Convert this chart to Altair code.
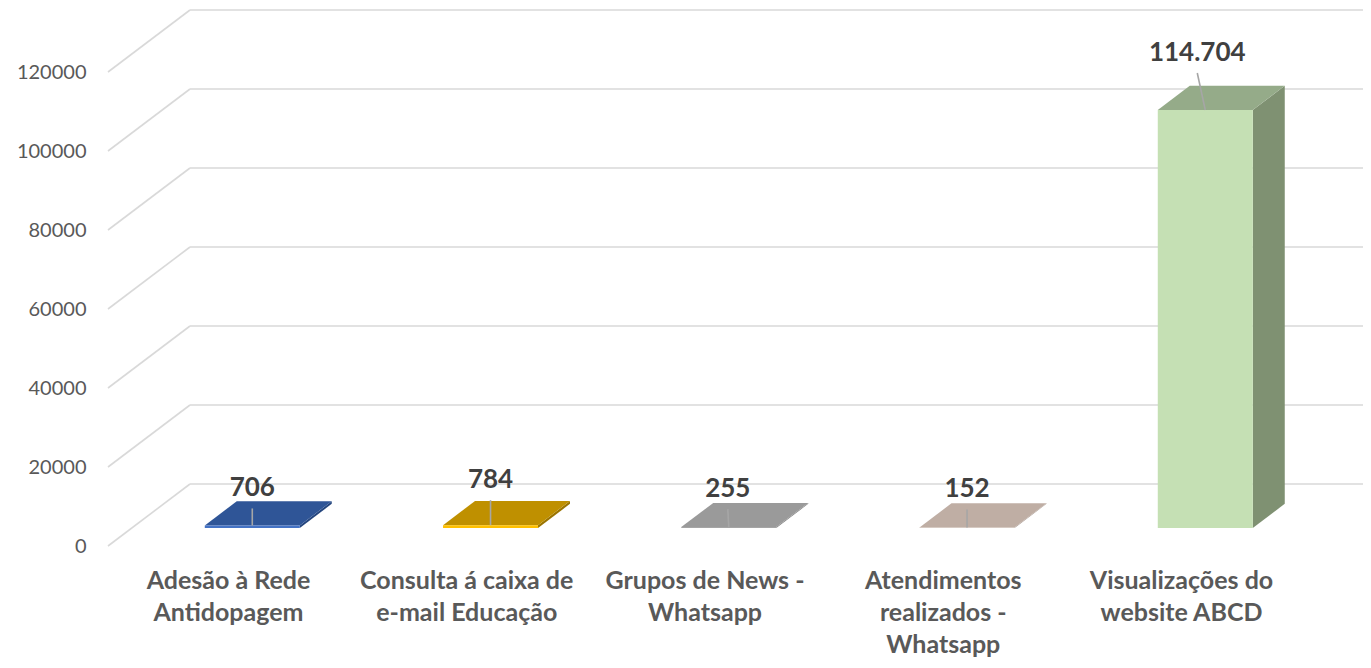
import altair as alt
import pandas as pd

# ---------------- data ----------------
categories = [
    "Adesão à Rede\nAntidopagem",
    "Consulta á caixa de\ne-mail Educação",
    "Grupos de News -\nWhatsapp",
    "Atendimentos\nrealizados -\nWhatsapp",
    "Visualizações do\nwebsite ABCD",
]
values = [706, 784, 255, 152, 114704]
value_labels = ["706", "784", "255", "152", "114.704"]
y_ticks = [0, 20000, 40000, 60000, 80000, 100000, 120000]

# ---------------- styles ----------------
front_colors = ["#4472C4", "#FFC000", "#A5A5A5", "#CDBDB3", "#C5E0B4"]
top_colors = ["#2F5597", "#BF9000", "#9A9A9A", "#BFAEA4", "#95AB89"]
side_colors = ["#24457E", "#9A7400", "#7F7F7F", "#A39389", "#7F9172"]
GRID = "#D9D9D9"
FONT = "Lato"

# ---------------- layout (pixels) ----------------
W, H = 1255, 474
PAD = {"left": 100, "top": 64, "right": 0, "bottom": 114}
STEP, FIRST = 238.25, 120.5          # category spacing / first centre
DEPTH_X, DEPTH_Y = 82, 62            # full depth of the 3-D box
D0, D1 = 0.29, 0.68                  # bar front / back depth fraction
HALF = 47.5                          # half bar width
LBL_DX = [0, 0, -1, 0, -8]           # value label offsets (px)
LBL_DY = [37, 45, 38, 38, 57]
PERSPECTIVE = 0.9226                 # bar height shrink of the 3-D view

XMIN = -FIRST / STEP
XMAX = XMIN + W / STEP
YG = 120000
kG = H / YG
YB = YG / PERSPECTIVE
kB = H / YB

xs = alt.Scale(domain=[XMIN, XMAX], nice=False, zero=False)
ysG = alt.Scale(domain=[0, YG], nice=False)
ysB = alt.Scale(domain=[0, YB], nice=False)

grid_axis = alt.Axis(
    values=y_ticks, format="d", grid=False, domain=False, ticks=False,
    labelFontSize=20, labelColor="#595959", labelFont=FONT,
    labelPadding=22, title=None,
)

keys = [str(i) for i in range(len(values))]

def px_x(p):
    return p / STEP

# ---------------- grid layer ----------------
grid_df = pd.DataFrame({"v": y_ticks})
grid_df["xa"] = XMIN
grid_df["xb"] = XMIN + px_x(DEPTH_X)
grid_df["xe"] = XMAX
grid_df["vb"] = grid_df["v"] + DEPTH_Y / kG

diag = alt.Chart(grid_df).mark_rule(color=GRID, strokeWidth=1.6).encode(
    x=alt.X("xa:Q", scale=xs, axis=None),
    x2="xb:Q",
    y=alt.Y("v:Q", scale=ysG, axis=grid_axis),
    y2="vb:Q",
)
back = alt.Chart(grid_df).mark_rule(color=GRID, strokeWidth=1.6).encode(
    x=alt.X("xb:Q", scale=xs, axis=None),
    x2="xe:Q",
    y=alt.Y("vb:Q", scale=ysG, axis=grid_axis),
)

cat_df = pd.DataFrame({"cat": categories, "x": list(range(len(categories)))})
cat_df["y"] = -23 / kG
cat_text = alt.Chart(cat_df).mark_text(
    font=FONT, fontSize=25, fontWeight="bold", color="#595959",
    align="center", baseline="top", lineBreak="\n", lineHeight=32,
).encode(
    x=alt.X("x:Q", scale=xs, axis=None),
    y=alt.Y("y:Q", scale=ysG, axis=grid_axis),
    text="cat:N",
)

grid_layer = alt.layer(diag, back, cat_text)

# ---------------- bar layer ----------------
sx0, sx1 = px_x(D0 * DEPTH_X), px_x(D1 * DEPTH_X)
sy0, sy1 = D0 * DEPTH_Y / kB, D1 * DEPTH_Y / kB
hw = px_x(HALF)

front_rows, top_rows, side_rows, lbl_rows = [], [], [], []
for i, (k, v) in enumerate(zip(keys, values)):
    front_rows.append({"k": k, "x": i - hw + sx0, "x2": i + hw + sx0,
                       "y": sy0, "y2": v + sy0})
    top_rows.append({"k": k, "y": v + sy0, "x": i - hw + sx0, "x2": i + hw + sx0})
    top_rows.append({"k": k, "y": v + sy1, "x": i - hw + sx1, "x2": i + hw + sx1})
    side_rows.append({"k": k, "x": i + hw + sx0, "y": v + sy0, "y2": sy0})
    side_rows.append({"k": k, "x": i + hw + sx1, "y": v + sy1, "y2": sy1})
    cx = i + sx0
    lbl_rows.append({
        "k": k, "t": value_labels[i],
        "lx0": cx, "ly0": v + sy0,
        "lx1": cx + px_x(LBL_DX[i]), "ly1": v + sy0 + (LBL_DY[i] - 20) / kB,
        "tx": cx + px_x(LBL_DX[i]), "ty": v + sy0 + LBL_DY[i] / kB,
    })

def cscale(rng):
    return alt.Scale(domain=keys, range=rng)

side = alt.Chart(pd.DataFrame(side_rows)).mark_area(orient="vertical").encode(
    x=alt.X("x:Q", scale=xs, axis=None, stack=None),
    y=alt.Y("y:Q", scale=ysB, axis=None, stack=None),
    y2="y2:Q",
    color=alt.Color("k:N", scale=cscale(side_colors), legend=None),
    detail="k:N",
)
top = alt.Chart(pd.DataFrame(top_rows)).mark_area(orient="horizontal").encode(
    y=alt.Y("y:Q", scale=ysB, axis=None, stack=None),
    x=alt.X("x:Q", scale=xs, axis=None, stack=None),
    x2="x2:Q",
    color=alt.Color("k:N", scale=cscale(top_colors), legend=None),
    detail="k:N",
)
front = alt.Chart(pd.DataFrame(front_rows)).mark_rect().encode(
    x=alt.X("x:Q", scale=xs, axis=None),
    x2="x2:Q",
    y=alt.Y("y:Q", scale=ysB, axis=None),
    y2="y2:Q",
    color=alt.Color("k:N", scale=cscale(front_colors), legend=None),
)
lbl_df = pd.DataFrame(lbl_rows)
leader = alt.Chart(lbl_df).mark_rule(color="#A6A6A6", strokeWidth=1.6).encode(
    x=alt.X("lx0:Q", scale=xs, axis=None),
    x2="lx1:Q",
    y=alt.Y("ly0:Q", scale=ysB, axis=None),
    y2="ly1:Q",
)
vtext = alt.Chart(lbl_df).mark_text(
    font=FONT, fontSize=26, fontWeight="bold", color="#404040",
    align="center", baseline="middle",
).encode(
    x=alt.X("tx:Q", scale=xs, axis=None),
    y=alt.Y("ty:Q", scale=ysB, axis=None),
    text="t:N",
)

bar_layer = alt.layer(side, top, front, leader, vtext).resolve_scale(color="independent")

chart = alt.layer(grid_layer, bar_layer).resolve_scale(
    y="independent", color="independent"
).properties(
    width=W, height=H, padding=PAD, background="white",
    autosize=alt.AutoSizeParams(type="none"),
).configure_view(stroke=None)

chart.save("out.html", embed_options={"renderer": "svg", "actions": False})
